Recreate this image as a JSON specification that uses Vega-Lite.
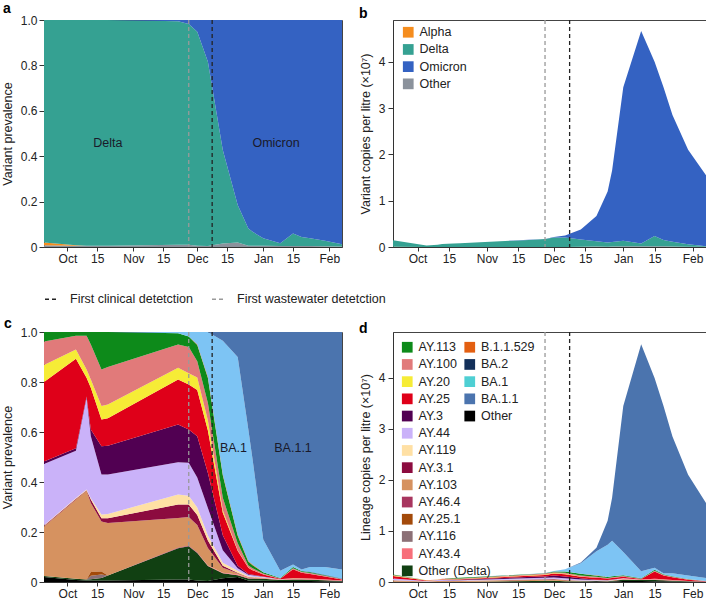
{
"$schema": "https://vega.github.io/schema/vega-lite/v6.json",
"background": "white",
"padding": {"left": 0, "top": 1, "right": 0, "bottom": 0},
"config": {
 "font": "Liberation Sans",
 "view": {"stroke": "#444444", "strokeWidth": 1},
 "axis": {"labelFont": "Liberation Sans", "labelFontSize": 12, "labelColor": "#222222", "titleFont": "Liberation Sans", "titleFontSize": 12.5, "titleFontWeight": "normal", "titleColor": "#222222", "domainColor": "#333333", "tickColor": "#333333", "grid": false},
 "legend": {"labelFont": "Liberation Sans"},
 "title": {"font": "Liberation Sans"}
},
"datasets": {
 "events": [
  {"event": "First clinical detetction", "date": "2021-12-08"},
  {"event": "First wastewater detetction", "date": "2021-11-27"}
 ],
 "labA": [
  {"date": "2021-10-20", "y": 0.46, "label": "Delta"},
  {"date": "2022-01-07", "y": 0.46, "label": "Omicron"}
 ],
 "labC": [
  {"date": "2021-12-18", "y": 0.537, "label": "BA.1"},
  {"date": "2022-01-15", "y": 0.537, "label": "BA.1.1"}
 ],
 "lin": [
  {"date":"2021-09-20","lineage":"Other","variant":"Other","copies":0.00116},
  {"date":"2021-09-20","lineage":"Other","variant":"Alpha","copies":0.00174},
  {"date":"2021-09-20","lineage":"Other (Delta)","variant":"Delta","copies":0.00058},
  {"date":"2021-09-20","lineage":"AY.103","variant":"Delta","copies":0.02871},
  {"date":"2021-09-20","lineage":"AY.3.1","variant":"Delta","copies":0.00044},
  {"date":"2021-09-20","lineage":"AY.119","variant":"Delta","copies":0.00029},
  {"date":"2021-09-20","lineage":"AY.44","variant":"Delta","copies":0.03553},
  {"date":"2021-09-20","lineage":"AY.3","variant":"Delta","copies":0.00145},
  {"date":"2021-09-20","lineage":"AY.25","variant":"Delta","copies":0.04611},
  {"date":"2021-09-20","lineage":"AY.20","variant":"Delta","copies":0.00986},
  {"date":"2021-09-20","lineage":"AY.100","variant":"Delta","copies":0.01363},
  {"date":"2021-09-20","lineage":"AY.113","variant":"Delta","copies":0.00551},

  {"date":"2021-10-05","lineage":"Other","variant":"Other","copies":0.00021},
  {"date":"2021-10-05","lineage":"Other","variant":"Alpha","copies":0.00007},
  {"date":"2021-10-05","lineage":"Other (Delta)","variant":"Delta","copies":0.00018},
  {"date":"2021-10-05","lineage":"AY.103","variant":"Delta","copies":0.0111},
  {"date":"2021-10-05","lineage":"AY.3.1","variant":"Delta","copies":0.00011},
  {"date":"2021-10-05","lineage":"AY.119","variant":"Delta","copies":0.00011},
  {"date":"2021-10-05","lineage":"AY.44","variant":"Delta","copies":0.00662},
  {"date":"2021-10-05","lineage":"AY.3","variant":"Delta","copies":0.00035},
  {"date":"2021-10-05","lineage":"AY.25","variant":"Delta","copies":0.01253},
  {"date":"2021-10-05","lineage":"AY.20","variant":"Delta","copies":0.0013},
  {"date":"2021-10-05","lineage":"AY.100","variant":"Delta","copies":0.00193},
  {"date":"2021-10-05","lineage":"AY.113","variant":"Delta","copies":0.00053},

  {"date":"2021-10-10","lineage":"Other","variant":"Other","copies":0.0003},
  {"date":"2021-10-10","lineage":"Other (Delta)","variant":"Delta","copies":0.0002},
  {"date":"2021-10-10","lineage":"AY.103","variant":"Delta","copies":0.01775},
  {"date":"2021-10-10","lineage":"AY.3.1","variant":"Delta","copies":0.0001},
  {"date":"2021-10-10","lineage":"AY.119","variant":"Delta","copies":0.00015},
  {"date":"2021-10-10","lineage":"AY.44","variant":"Delta","copies":0.01835},
  {"date":"2021-10-10","lineage":"AY.3","variant":"Delta","copies":0.00025},
  {"date":"2021-10-10","lineage":"AY.25","variant":"Delta","copies":0.00375},
  {"date":"2021-10-10","lineage":"AY.20","variant":"Delta","copies":0.00165},
  {"date":"2021-10-10","lineage":"AY.100","variant":"Delta","copies":0.00675},
  {"date":"2021-10-10","lineage":"AY.113","variant":"Delta","copies":0.00075},

  {"date":"2021-10-12","lineage":"Other","variant":"Other","copies":0.00039},
  {"date":"2021-10-12","lineage":"Other (Delta)","variant":"Delta","copies":0.00033},
  {"date":"2021-10-12","lineage":"AY.116","variant":"Delta","copies":0.00091},
  {"date":"2021-10-12","lineage":"AY.25.1","variant":"Delta","copies":0.00098},
  {"date":"2021-10-12","lineage":"AY.103","variant":"Delta","copies":0.01794},
  {"date":"2021-10-12","lineage":"AY.3.1","variant":"Delta","copies":0.00091},
  {"date":"2021-10-12","lineage":"AY.119","variant":"Delta","copies":0.00033},
  {"date":"2021-10-12","lineage":"AY.44","variant":"Delta","copies":0.01612},
  {"date":"2021-10-12","lineage":"AY.3","variant":"Delta","copies":0.00176},
  {"date":"2021-10-12","lineage":"AY.25","variant":"Delta","copies":0.01086},
  {"date":"2021-10-12","lineage":"AY.20","variant":"Delta","copies":0.00215},
  {"date":"2021-10-12","lineage":"AY.100","variant":"Delta","copies":0.0091},
  {"date":"2021-10-12","lineage":"AY.113","variant":"Delta","copies":0.00325},

  {"date":"2021-10-17","lineage":"Other","variant":"Other","copies":0.00047},
  {"date":"2021-10-17","lineage":"Other (Delta)","variant":"Delta","copies":0.00078},
  {"date":"2021-10-17","lineage":"AY.116","variant":"Delta","copies":0.00109},
  {"date":"2021-10-17","lineage":"AY.25.1","variant":"Delta","copies":0.00094},
  {"date":"2021-10-17","lineage":"AY.103","variant":"Delta","copies":0.0156},
  {"date":"2021-10-17","lineage":"AY.3.1","variant":"Delta","copies":0.00101},
  {"date":"2021-10-17","lineage":"AY.119","variant":"Delta","copies":0.00117},
  {"date":"2021-10-17","lineage":"AY.44","variant":"Delta","copies":0.01248},
  {"date":"2021-10-17","lineage":"AY.3","variant":"Delta","copies":0.00881},
  {"date":"2021-10-17","lineage":"AY.25","variant":"Delta","copies":0.00835},
  {"date":"2021-10-17","lineage":"AY.20","variant":"Delta","copies":0.00421},
  {"date":"2021-10-17","lineage":"AY.100","variant":"Delta","copies":0.01139},
  {"date":"2021-10-17","lineage":"AY.113","variant":"Delta","copies":0.0117},

  {"date":"2021-10-20","lineage":"Other","variant":"Other","copies":0.00049},
  {"date":"2021-10-20","lineage":"Other (Delta)","variant":"Delta","copies":0.00164},
  {"date":"2021-10-20","lineage":"AY.103","variant":"Delta","copies":0.01722},
  {"date":"2021-10-20","lineage":"AY.3.1","variant":"Delta","copies":0.00156},
  {"date":"2021-10-20","lineage":"AY.119","variant":"Delta","copies":0.00139},
  {"date":"2021-10-20","lineage":"AY.44","variant":"Delta","copies":0.01296},
  {"date":"2021-10-20","lineage":"AY.3","variant":"Delta","copies":0.00943},
  {"date":"2021-10-20","lineage":"AY.25","variant":"Delta","copies":0.00902},
  {"date":"2021-10-20","lineage":"AY.20","variant":"Delta","copies":0.00451},
  {"date":"2021-10-20","lineage":"AY.100","variant":"Delta","copies":0.0123},
  {"date":"2021-10-20","lineage":"AY.113","variant":"Delta","copies":0.01148},

  {"date":"2021-11-22","lineage":"Other","variant":"Other","copies":0.0016},
  {"date":"2021-11-22","lineage":"Other (Delta)","variant":"Delta","copies":0.02},
  {"date":"2021-11-22","lineage":"AY.46.4","variant":"Delta","copies":0.00032},
  {"date":"2021-11-22","lineage":"AY.103","variant":"Delta","copies":0.01904},
  {"date":"2021-11-22","lineage":"AY.3.1","variant":"Delta","copies":0.00864},
  {"date":"2021-11-22","lineage":"AY.119","variant":"Delta","copies":0.0064},
  {"date":"2021-11-22","lineage":"AY.44","variant":"Delta","copies":0.02064},
  {"date":"2021-11-22","lineage":"AY.3","variant":"Delta","copies":0.02416},
  {"date":"2021-11-22","lineage":"AY.25","variant":"Delta","copies":0.0288},
  {"date":"2021-11-22","lineage":"AY.20","variant":"Delta","copies":0.00752},
  {"date":"2021-11-22","lineage":"AY.100","variant":"Delta","copies":0.01488},
  {"date":"2021-11-22","lineage":"AY.113","variant":"Delta","copies":0.0072},
  {"date":"2021-11-22","lineage":"BA.1","variant":"Omicron","copies":0.0008},

  {"date":"2021-11-27","lineage":"Other","variant":"Other","copies":0.00175},
  {"date":"2021-11-27","lineage":"Other (Delta)","variant":"Delta","copies":0.02328},
  {"date":"2021-11-27","lineage":"AY.46.4","variant":"Delta","copies":0.00035},
  {"date":"2021-11-27","lineage":"AY.103","variant":"Delta","copies":0.02013},
  {"date":"2021-11-27","lineage":"AY.3.1","variant":"Delta","copies":0.00875},
  {"date":"2021-11-27","lineage":"AY.119","variant":"Delta","copies":0.00613},
  {"date":"2021-11-27","lineage":"AY.44","variant":"Delta","copies":0.0231},
  {"date":"2021-11-27","lineage":"AY.3","variant":"Delta","copies":0.02328},
  {"date":"2021-11-27","lineage":"AY.25","variant":"Delta","copies":0.0315},
  {"date":"2021-11-27","lineage":"AY.20","variant":"Delta","copies":0.00788},
  {"date":"2021-11-27","lineage":"AY.100","variant":"Delta","copies":0.01838},
  {"date":"2021-11-27","lineage":"AY.113","variant":"Delta","copies":0.00735},
  {"date":"2021-11-27","lineage":"BA.1","variant":"Omicron","copies":0.00315},

  {"date":"2021-12-01","lineage":"Other","variant":"Other","copies":0.00129},
  {"date":"2021-12-01","lineage":"Other (Delta)","variant":"Delta","copies":0.02365},
  {"date":"2021-12-01","lineage":"AY.46.4","variant":"Delta","copies":0.00043},
  {"date":"2021-12-01","lineage":"AY.103","variant":"Delta","copies":0.02365},
  {"date":"2021-12-01","lineage":"AY.3.1","variant":"Delta","copies":0.0086},
  {"date":"2021-12-01","lineage":"AY.119","variant":"Delta","copies":0.00645},
  {"date":"2021-12-01","lineage":"AY.44","variant":"Delta","copies":0.0258},
  {"date":"2021-12-01","lineage":"AY.3","variant":"Delta","copies":0.03548},
  {"date":"2021-12-01","lineage":"AY.25","variant":"Delta","copies":0.03978},
  {"date":"2021-12-01","lineage":"AY.20","variant":"Delta","copies":0.01075},
  {"date":"2021-12-01","lineage":"AY.100","variant":"Delta","copies":0.01398},
  {"date":"2021-12-01","lineage":"AY.113","variant":"Delta","copies":0.01398},
  {"date":"2021-12-01","lineage":"B.1.1.529","variant":"Omicron","copies":0.00043},
  {"date":"2021-12-01","lineage":"BA.1","variant":"Omicron","copies":0.01075},

  {"date":"2021-12-06","lineage":"Other","variant":"Other","copies":0.001},
  {"date":"2021-12-06","lineage":"Other (Delta)","variant":"Delta","copies":0.015},
  {"date":"2021-12-06","lineage":"AY.43.4","variant":"Delta","copies":0.0005},
  {"date":"2021-12-06","lineage":"AY.103","variant":"Delta","copies":0.0175},
  {"date":"2021-12-06","lineage":"AY.3.1","variant":"Delta","copies":0.0075},
  {"date":"2021-12-06","lineage":"AY.119","variant":"Delta","copies":0.005},
  {"date":"2021-12-06","lineage":"AY.44","variant":"Delta","copies":0.0275},
  {"date":"2021-12-06","lineage":"AY.3","variant":"Delta","copies":0.035},
  {"date":"2021-12-06","lineage":"AY.25","variant":"Delta","copies":0.0425},
  {"date":"2021-12-06","lineage":"AY.20","variant":"Delta","copies":0.01},
  {"date":"2021-12-06","lineage":"AY.100","variant":"Delta","copies":0.0175},
  {"date":"2021-12-06","lineage":"AY.113","variant":"Delta","copies":0.025},
  {"date":"2021-12-06","lineage":"B.1.1.529","variant":"Omicron","copies":0.00075},
  {"date":"2021-12-06","lineage":"BA.1","variant":"Omicron","copies":0.04525},

  {"date":"2021-12-13","lineage":"Other","variant":"Other","copies":0.0057},
  {"date":"2021-12-13","lineage":"Other (Delta)","variant":"Delta","copies":0.0076},
  {"date":"2021-12-13","lineage":"AY.43.4","variant":"Delta","copies":0.00076},
  {"date":"2021-12-13","lineage":"AY.103","variant":"Delta","copies":0.0076},
  {"date":"2021-12-13","lineage":"AY.3.1","variant":"Delta","copies":0.00304},
  {"date":"2021-12-13","lineage":"AY.119","variant":"Delta","copies":0.00456},
  {"date":"2021-12-13","lineage":"AY.44","variant":"Delta","copies":0.019},
  {"date":"2021-12-13","lineage":"AY.3","variant":"Delta","copies":0.0228},
  {"date":"2021-12-13","lineage":"AY.25","variant":"Delta","copies":0.0342},
  {"date":"2021-12-13","lineage":"AY.20","variant":"Delta","copies":0.0038},
  {"date":"2021-12-13","lineage":"AY.100","variant":"Delta","copies":0.019},
  {"date":"2021-12-13","lineage":"AY.113","variant":"Delta","copies":0.0342},
  {"date":"2021-12-13","lineage":"B.1.1.529","variant":"Omicron","copies":0.00114},
  {"date":"2021-12-13","lineage":"BA.1","variant":"Omicron","copies":0.2033},
  {"date":"2021-12-13","lineage":"BA.1.1","variant":"Omicron","copies":0.0133},

  {"date":"2021-12-20","lineage":"Other","variant":"Other","copies":0.0134},
  {"date":"2021-12-20","lineage":"Other (Delta)","variant":"Delta","copies":0.00469},
  {"date":"2021-12-20","lineage":"AY.43.4","variant":"Delta","copies":0.00201},
  {"date":"2021-12-20","lineage":"AY.103","variant":"Delta","copies":0.00335},
  {"date":"2021-12-20","lineage":"AY.3.1","variant":"Delta","copies":0.00134},
  {"date":"2021-12-20","lineage":"AY.119","variant":"Delta","copies":0.00536},
  {"date":"2021-12-20","lineage":"AY.44","variant":"Delta","copies":0.0067},
  {"date":"2021-12-20","lineage":"AY.3","variant":"Delta","copies":0.0067},
  {"date":"2021-12-20","lineage":"AY.25","variant":"Delta","copies":0.0402},
  {"date":"2021-12-20","lineage":"AY.20","variant":"Delta","copies":0.00134},
  {"date":"2021-12-20","lineage":"AY.100","variant":"Delta","copies":0.01876},
  {"date":"2021-12-20","lineage":"AY.113","variant":"Delta","copies":0.0201},
  {"date":"2021-12-20","lineage":"B.1.1.529","variant":"Omicron","copies":0.00201},
  {"date":"2021-12-20","lineage":"BA.1","variant":"Omicron","copies":0.47704},
  {"date":"2021-12-20","lineage":"BA.1.1","variant":"Omicron","copies":0.067},

  {"date":"2021-12-25","lineage":"Other","variant":"Other","copies":0.0072},
  {"date":"2021-12-25","lineage":"Other (Delta)","variant":"Delta","copies":0.0096},
  {"date":"2021-12-25","lineage":"AY.43.4","variant":"Delta","copies":0.0036},
  {"date":"2021-12-25","lineage":"AY.103","variant":"Delta","copies":0.0024},
  {"date":"2021-12-25","lineage":"AY.3.1","variant":"Delta","copies":0.0012},
  {"date":"2021-12-25","lineage":"AY.119","variant":"Delta","copies":0.0036},
  {"date":"2021-12-25","lineage":"AY.44","variant":"Delta","copies":0.0072},
  {"date":"2021-12-25","lineage":"AY.3","variant":"Delta","copies":0.0036},
  {"date":"2021-12-25","lineage":"AY.25","variant":"Delta","copies":0.03},
  {"date":"2021-12-25","lineage":"AY.20","variant":"Delta","copies":0.0012},
  {"date":"2021-12-25","lineage":"AY.100","variant":"Delta","copies":0.0096},
  {"date":"2021-12-25","lineage":"AY.113","variant":"Delta","copies":0.018},
  {"date":"2021-12-25","lineage":"B.1.1.529","variant":"Omicron","copies":0.0024},
  {"date":"2021-12-25","lineage":"BA.1","variant":"Omicron","copies":0.6324},
  {"date":"2021-12-25","lineage":"BA.1.1","variant":"Omicron","copies":0.468},

  {"date":"2021-12-27","lineage":"Other","variant":"Other","copies":0.0099},
  {"date":"2021-12-27","lineage":"Other (Delta)","variant":"Delta","copies":0.0132},
  {"date":"2021-12-27","lineage":"AY.43.4","variant":"Delta","copies":0.0033},
  {"date":"2021-12-27","lineage":"AY.103","variant":"Delta","copies":0.0033},
  {"date":"2021-12-27","lineage":"AY.3.1","variant":"Delta","copies":0.00165},
  {"date":"2021-12-27","lineage":"AY.119","variant":"Delta","copies":0.0033},
  {"date":"2021-12-27","lineage":"AY.44","variant":"Delta","copies":0.0099},
  {"date":"2021-12-27","lineage":"AY.3","variant":"Delta","copies":0.0033},
  {"date":"2021-12-27","lineage":"AY.25","variant":"Delta","copies":0.0297},
  {"date":"2021-12-27","lineage":"AY.20","variant":"Delta","copies":0.00165},
  {"date":"2021-12-27","lineage":"AY.100","variant":"Delta","copies":0.01155},
  {"date":"2021-12-27","lineage":"AY.113","variant":"Delta","copies":0.0198},
  {"date":"2021-12-27","lineage":"B.1.1.529","variant":"Omicron","copies":0.0033},
  {"date":"2021-12-27","lineage":"BA.1","variant":"Omicron","copies":0.69465},
  {"date":"2021-12-27","lineage":"BA.1.1","variant":"Omicron","copies":0.8415},

  {"date":"2022-01-01","lineage":"Other","variant":"Other","copies":0.01725},
  {"date":"2022-01-01","lineage":"Other (Delta)","variant":"Delta","copies":0.0276},
  {"date":"2022-01-01","lineage":"AY.43.4","variant":"Delta","copies":0.0069},
  {"date":"2022-01-01","lineage":"AY.103","variant":"Delta","copies":0.0069},
  {"date":"2022-01-01","lineage":"AY.119","variant":"Delta","copies":0.00345},
  {"date":"2022-01-01","lineage":"AY.44","variant":"Delta","copies":0.01035},
  {"date":"2022-01-01","lineage":"AY.3","variant":"Delta","copies":0.00345},
  {"date":"2022-01-01","lineage":"AY.25","variant":"Delta","copies":0.0276},
  {"date":"2022-01-01","lineage":"AY.100","variant":"Delta","copies":0.0138},
  {"date":"2022-01-01","lineage":"AY.113","variant":"Delta","copies":0.01725},
  {"date":"2022-01-01","lineage":"BA.1","variant":"Omicron","copies":0.45195},
  {"date":"2022-01-01","lineage":"BA.1.1","variant":"Omicron","copies":2.8635},

  {"date":"2022-01-09","lineage":"Other","variant":"Other","copies":0.01864},
  {"date":"2022-01-09","lineage":"Other (Delta)","variant":"Delta","copies":0.01864},
  {"date":"2022-01-09","lineage":"AY.43.4","variant":"Delta","copies":0.00466},
  {"date":"2022-01-09","lineage":"AY.103","variant":"Delta","copies":0.00466},
  {"date":"2022-01-09","lineage":"AY.44","variant":"Delta","copies":0.00466},
  {"date":"2022-01-09","lineage":"AY.25","variant":"Delta","copies":0.00932},
  {"date":"2022-01-09","lineage":"AY.100","variant":"Delta","copies":0.00466},
  {"date":"2022-01-09","lineage":"AY.113","variant":"Delta","copies":0.00932},
  {"date":"2022-01-09","lineage":"BA.1","variant":"Omicron","copies":0.13514},
  {"date":"2022-01-09","lineage":"BA.1.1","variant":"Omicron","copies":4.4503},

  {"date":"2022-01-15","lineage":"Other","variant":"Other","copies":0.016},
  {"date":"2022-01-15","lineage":"Other (Delta)","variant":"Delta","copies":0.024},
  {"date":"2022-01-15","lineage":"AY.43.4","variant":"Delta","copies":0.012},
  {"date":"2022-01-15","lineage":"AY.103","variant":"Delta","copies":0.012},
  {"date":"2022-01-15","lineage":"AY.25","variant":"Delta","copies":0.14},
  {"date":"2022-01-15","lineage":"AY.100","variant":"Delta","copies":0.016},
  {"date":"2022-01-15","lineage":"AY.113","variant":"Delta","copies":0.02},
  {"date":"2022-01-15","lineage":"BA.1","variant":"Omicron","copies":0.04},
  {"date":"2022-01-15","lineage":"BA.1.1","variant":"Omicron","copies":3.72},

  {"date":"2022-01-19","lineage":"Other","variant":"Other","copies":0.0138},
  {"date":"2022-01-19","lineage":"Other (Delta)","variant":"Delta","copies":0.0207},
  {"date":"2022-01-19","lineage":"AY.43.4","variant":"Delta","copies":0.01035},
  {"date":"2022-01-19","lineage":"AY.103","variant":"Delta","copies":0.0069},
  {"date":"2022-01-19","lineage":"AY.25","variant":"Delta","copies":0.0759},
  {"date":"2022-01-19","lineage":"AY.100","variant":"Delta","copies":0.0138},
  {"date":"2022-01-19","lineage":"AY.113","variant":"Delta","copies":0.01035},
  {"date":"2022-01-19","lineage":"BA.1","variant":"Omicron","copies":0.0207},
  {"date":"2022-01-19","lineage":"BA.1.1","variant":"Omicron","copies":3.2775},

  {"date":"2022-01-23","lineage":"Other","variant":"Other","copies":0.0114},
  {"date":"2022-01-23","lineage":"Other (Delta)","variant":"Delta","copies":0.01425},
  {"date":"2022-01-23","lineage":"AY.43.4","variant":"Delta","copies":0.00855},
  {"date":"2022-01-23","lineage":"AY.103","variant":"Delta","copies":0.0057},
  {"date":"2022-01-23","lineage":"AY.25","variant":"Delta","copies":0.0513},
  {"date":"2022-01-23","lineage":"AY.100","variant":"Delta","copies":0.0114},
  {"date":"2022-01-23","lineage":"AY.113","variant":"Delta","copies":0.00855},
  {"date":"2022-01-23","lineage":"BA.2","variant":"Omicron","copies":0.00285},
  {"date":"2022-01-23","lineage":"BA.1","variant":"Omicron","copies":0.057},
  {"date":"2022-01-23","lineage":"BA.1.1","variant":"Omicron","copies":2.679},

  {"date":"2022-01-30","lineage":"Other","variant":"Other","copies":0.0063},
  {"date":"2022-01-30","lineage":"Other (Delta)","variant":"Delta","copies":0.0084},
  {"date":"2022-01-30","lineage":"AY.43.4","variant":"Delta","copies":0.0063},
  {"date":"2022-01-30","lineage":"AY.25","variant":"Delta","copies":0.0252},
  {"date":"2022-01-30","lineage":"AY.100","variant":"Delta","copies":0.0063},
  {"date":"2022-01-30","lineage":"AY.113","variant":"Delta","copies":0.0042},
  {"date":"2022-01-30","lineage":"BA.2","variant":"Omicron","copies":0.0021},
  {"date":"2022-01-30","lineage":"BA.1","variant":"Omicron","copies":0.0672},
  {"date":"2022-01-30","lineage":"BA.1.1","variant":"Omicron","copies":1.974},

  {"date":"2022-02-07","lineage":"Other","variant":"Other","copies":0.0031},
  {"date":"2022-02-07","lineage":"Other (Delta)","variant":"Delta","copies":0.0031},
  {"date":"2022-02-07","lineage":"AY.43.4","variant":"Delta","copies":0.0031},
  {"date":"2022-02-07","lineage":"AY.25","variant":"Delta","copies":0.0062},
  {"date":"2022-02-07","lineage":"AY.100","variant":"Delta","copies":0.0031},
  {"date":"2022-02-07","lineage":"BA.2","variant":"Omicron","copies":0.00155},
  {"date":"2022-02-07","lineage":"BA.1","variant":"Omicron","copies":0.05735},
  {"date":"2022-02-07","lineage":"BA.1.1","variant":"Omicron","copies":1.4725}
 ]
},
"columns": 2,
"spacing": {"row": 85, "column": 51},
"bounds": "flush",
"resolve": {"scale": {"x": "independent", "y": "independent", "color": "independent", "fill": "independent", "stroke": "independent", "strokeDash": "independent"}},
"concat": [
 {
  "width": 298, "height": 227,
  "title": {"text": "a", "anchor": "start", "frame": "group", "dx": -41, "dy": 20, "offset": 7, "fontSize": 14, "fontWeight": "bold", "baseline": "alphabetic", "color": "#000000"},
  "encoding": {
   "x": {"field": "date", "type": "temporal", "scale": {"type": "utc", "domain": [1632096000000, 1644192000000]},
         "axis": {"title": null, "values": [1633046400000, 1634256000000, 1635724800000, 1636934400000, 1638316800000, 1639526400000, 1640995200000, 1642204800000, 1643673600000],
                  "labelExpr": "utcdate(datum.value) == 1 ? utcFormat(datum.value, '%b') : utcFormat(datum.value, '%d')", "tickSize": 4, "labelPadding": 2, "labelFlush": false, "labelOverlap": false}}
  },
  "layer": [
   {
    "data": {"name": "lin"},
    "transform": [
     {"aggregate": [{"op": "sum", "field": "copies", "as": "copies"}], "groupby": ["date", "variant"]},
     {"impute": "copies", "key": "date", "groupby": ["variant"], "value": 0},
     {"calculate": "indexof(['Other','Alpha','Delta','Omicron'], datum.variant)", "as": "o"}
    ],
    "mark": {"type": "area"},
    "encoding": {
     "y": {"field": "copies", "type": "quantitative", "stack": "normalize",
           "axis": {"title": "Variant prevalence", "values": [0, 0.2, 0.4, 0.6, 0.8, 1], "labelExpr": "datum.value == 0 ? '0' : format(datum.value, '.1f')", "tickSize": 5, "labelPadding": 2, "titlePadding": 6}},
     "color": {"field": "variant", "type": "nominal", "scale": {"domain": ["Alpha", "Delta", "Omicron", "Other"], "range": ["#f58d1e", "#35a192", "#3462c2", "#8b929c"]}, "legend": null},
     "order": {"field": "o", "type": "quantitative", "sort": "ascending"}
    }
   },
   {
    "data": {"name": "labA"},
    "mark": {"type": "text", "fontSize": 12.5, "color": "#1a1a2a"},
    "encoding": {
     "y": {"field": "y", "type": "quantitative"},
     "text": {"field": "label"}
    }
   },
   {
    "data": {"name": "events"},
    "mark": {"type": "rule", "strokeWidth": 1.3},
    "encoding": {
     "stroke": {"field": "event", "type": "nominal", "scale": {"domain": ["First clinical detetction", "First wastewater detetction"], "range": ["#222222", "#9a9a9a"]},
                "legend": {"title": null, "orient": "none", "legendX": 0, "legendY": 271, "direction": "horizontal", "symbolType": "stroke", "symbolSize": 196, "symbolStrokeWidth": 1.3, "labelFontSize": 12.5, "labelColor": "#222222", "labelOffset": 10, "columnPadding": 16, "padding": 0, "labelLimit": 300}},
     "strokeDash": {"field": "event", "type": "nominal", "scale": {"domain": ["First clinical detetction", "First wastewater detetction"], "range": [[4, 3], [4, 3]]},
                "legend": {"title": null, "orient": "none", "legendX": 0, "legendY": 271, "direction": "horizontal", "symbolType": "stroke", "symbolSize": 196, "symbolStrokeWidth": 1.3, "labelFontSize": 12.5, "labelColor": "#222222", "labelOffset": 10, "columnPadding": 16, "padding": 0, "labelLimit": 300}}
    }
   }
  ]
 },
 {
  "width": 313, "height": 227,
  "title": {"text": "b", "anchor": "start", "frame": "group", "dx": -34, "dy": 20, "offset": 7, "fontSize": 14, "fontWeight": "bold", "baseline": "alphabetic", "color": "#000000"},
  "encoding": {
   "x": {"field": "date", "type": "temporal", "scale": {"type": "utc", "domain": [1632096000000, 1644192000000]},
         "axis": {"title": null, "values": [1633046400000, 1634256000000, 1635724800000, 1636934400000, 1638316800000, 1639526400000, 1640995200000, 1642204800000, 1643673600000],
                  "labelExpr": "utcdate(datum.value) == 1 ? utcFormat(datum.value, '%b') : utcFormat(datum.value, '%d')", "tickSize": 4, "labelPadding": 2, "labelFlush": false, "labelOverlap": false}}
  },
  "layer": [
   {
    "data": {"name": "lin"},
    "transform": [
     {"aggregate": [{"op": "sum", "field": "copies", "as": "copies"}], "groupby": ["date", "variant"]},
     {"impute": "copies", "key": "date", "groupby": ["variant"], "value": 0},
     {"calculate": "indexof(['Other','Alpha','Delta','Omicron'], datum.variant)", "as": "o"}
    ],
    "mark": {"type": "area"},
    "encoding": {
     "y": {"field": "copies", "type": "quantitative", "stack": "zero", "scale": {"domain": [0, 4.9], "nice": false},
           "axis": {"title": "Variant copies per litre (×10⁷)", "values": [0, 1, 2, 3, 4], "format": "d", "labelOverlap": false, "tickSize": 5, "labelPadding": 3, "titlePadding": 6}},
     "color": {"field": "variant", "type": "nominal", "scale": {"domain": ["Alpha", "Delta", "Omicron", "Other"], "range": ["#f58d1e", "#35a192", "#3462c2", "#8b929c"]},
               "legend": {"title": null, "orient": "none", "legendX": 9, "legendY": 6, "symbolType": "square", "symbolSize": 115, "symbolStrokeWidth": 0, "labelFontSize": 12.5, "labelColor": "#222222", "rowPadding": 4.2, "labelOffset": 5, "padding": 0}},
     "order": {"field": "o", "type": "quantitative", "sort": "ascending"}
    }
   },
   {
    "data": {"name": "events"},
    "mark": {"type": "rule", "strokeWidth": 1.3},
    "encoding": {
     "stroke": {"field": "event", "type": "nominal", "scale": {"domain": ["First clinical detetction", "First wastewater detetction"], "range": ["#222222", "#9a9a9a"]}, "legend": null},
     "strokeDash": {"field": "event", "type": "nominal", "scale": {"domain": ["First clinical detetction", "First wastewater detetction"], "range": [[4, 3], [4, 3]]}, "legend": null}
    }
   }
  ]
 },
 {
  "width": 298, "height": 250,
  "title": {"text": "c", "anchor": "start", "frame": "group", "dx": -40, "dy": 20, "offset": 4, "fontSize": 14, "fontWeight": "bold", "baseline": "alphabetic", "color": "#000000"},
  "encoding": {
   "x": {"field": "date", "type": "temporal", "scale": {"type": "utc", "domain": [1632096000000, 1644192000000]},
         "axis": {"title": null, "values": [1633046400000, 1634256000000, 1635724800000, 1636934400000, 1638316800000, 1639526400000, 1640995200000, 1642204800000, 1643673600000],
                  "labelExpr": "utcdate(datum.value) == 1 ? utcFormat(datum.value, '%b') : utcFormat(datum.value, '%d')", "tickSize": 4, "labelPadding": 2, "labelFlush": false, "labelOverlap": false}}
  },
  "layer": [
   {
    "data": {"name": "lin"},
    "transform": [
     {"aggregate": [{"op": "sum", "field": "copies", "as": "copies"}], "groupby": ["date", "lineage"]},
     {"impute": "copies", "key": "date", "groupby": ["lineage"], "value": 0},
     {"calculate": "indexof(['Other','Other (Delta)','AY.43.4','AY.116','AY.25.1','AY.46.4','AY.103','AY.3.1','AY.119','AY.44','AY.3','AY.25','AY.20','AY.100','AY.113','B.1.1.529','BA.2','BA.1','BA.1.1'], datum.lineage)", "as": "o"}
    ],
    "mark": {"type": "area"},
    "encoding": {
     "y": {"field": "copies", "type": "quantitative", "stack": "normalize",
           "axis": {"title": "Variant prevalence", "values": [0, 0.2, 0.4, 0.6, 0.8, 1], "labelExpr": "datum.value == 0 ? '0' : format(datum.value, '.1f')", "tickSize": 5, "labelPadding": 2, "titlePadding": 6}},
     "color": {"field": "lineage", "type": "nominal",
               "scale": {"domain": ["AY.113","AY.100","AY.20","AY.25","AY.3","AY.44","AY.119","AY.3.1","AY.103","AY.46.4","AY.25.1","AY.116","AY.43.4","Other (Delta)","B.1.1.529","BA.2","BA.1","BA.1.1","Other"],
                         "range": ["#0d8a1a","#e17a7a","#f6ec36","#df0019","#510052","#cab2f9","#ffe0a4","#8c0b3f","#d69260","#a8365f","#a34a0a","#8c7076","#f76f7a","#114012","#e35f11","#13305a","#7dc4f4","#4b74ae","#000000"]},
               "legend": null},
     "order": {"field": "o", "type": "quantitative", "sort": "ascending"}
    }
   },
   {
    "data": {"name": "labC"},
    "mark": {"type": "text", "fontSize": 12.5, "color": "#1a1a2a"},
    "encoding": {
     "y": {"field": "y", "type": "quantitative"},
     "text": {"field": "label"}
    }
   },
   {
    "data": {"name": "events"},
    "mark": {"type": "rule", "strokeWidth": 1.3},
    "encoding": {
     "stroke": {"field": "event", "type": "nominal", "scale": {"domain": ["First clinical detetction", "First wastewater detetction"], "range": ["#222222", "#9a9a9a"]}, "legend": null},
     "strokeDash": {"field": "event", "type": "nominal", "scale": {"domain": ["First clinical detetction", "First wastewater detetction"], "range": [[4, 3], [4, 3]]}, "legend": null}
    }
   }
  ]
 },
 {
  "width": 313, "height": 250,
  "title": {"text": "d", "anchor": "start", "frame": "group", "dx": -34, "dy": 20, "offset": 4, "fontSize": 14, "fontWeight": "bold", "baseline": "alphabetic", "color": "#000000"},
  "encoding": {
   "x": {"field": "date", "type": "temporal", "scale": {"type": "utc", "domain": [1632096000000, 1644192000000]},
         "axis": {"title": null, "values": [1633046400000, 1634256000000, 1635724800000, 1636934400000, 1638316800000, 1639526400000, 1640995200000, 1642204800000, 1643673600000],
                  "labelExpr": "utcdate(datum.value) == 1 ? utcFormat(datum.value, '%b') : utcFormat(datum.value, '%d')", "tickSize": 4, "labelPadding": 2, "labelFlush": false, "labelOverlap": false}}
  },
  "layer": [
   {
    "data": {"name": "lin"},
    "transform": [
     {"aggregate": [{"op": "sum", "field": "copies", "as": "copies"}], "groupby": ["date", "lineage"]},
     {"impute": "copies", "key": "date", "groupby": ["lineage"], "value": 0},
     {"calculate": "indexof(['Other','Other (Delta)','AY.43.4','AY.116','AY.25.1','AY.46.4','AY.103','AY.3.1','AY.119','AY.44','AY.3','AY.25','AY.20','AY.100','AY.113','B.1.1.529','BA.2','BA.1','BA.1.1'], datum.lineage)", "as": "o"}
    ],
    "mark": {"type": "area"},
    "encoding": {
     "y": {"field": "copies", "type": "quantitative", "stack": "zero", "scale": {"domain": [0, 4.9], "nice": false},
           "axis": {"title": "Lineage copies per litre (×10⁷)", "values": [0, 1, 2, 3, 4], "format": "d", "labelOverlap": false, "tickSize": 5, "labelPadding": 3, "titlePadding": 6}},
     "color": {"field": "lineage", "type": "nominal",
               "scale": {"domain": ["AY.113","AY.100","AY.20","AY.25","AY.3","AY.44","AY.119","AY.3.1","AY.103","AY.46.4","AY.25.1","AY.116","AY.43.4","Other (Delta)","B.1.1.529","BA.2","BA.1","BA.1.1","Other"],
                         "range": ["#0d8a1a","#e17a7a","#f6ec36","#df0019","#510052","#cab2f9","#ffe0a4","#8c0b3f","#d69260","#a8365f","#a34a0a","#8c7076","#f76f7a","#114012","#e35f11","#13305a","#7dc4f4","#4b74ae","#000000"]},
               "legend": {"title": null, "orient": "none", "legendX": 8, "legendY": 9, "values": ["AY.113","AY.100","AY.20","AY.25","AY.3","AY.44","AY.119","AY.3.1","AY.103","AY.46.4","AY.25.1","AY.116","AY.43.4","Other (Delta)"], "symbolType": "square", "symbolSize": 115, "symbolStrokeWidth": 0, "labelFontSize": 12.5, "labelColor": "#222222", "rowPadding": 4.2, "labelOffset": 5, "padding": 0}},
     "order": {"field": "o", "type": "quantitative", "sort": "ascending"}
    }
   },
   {
    "data": {"name": "lin"},
    "transform": [{"filter": {"field": "lineage", "oneOf": ["B.1.1.529", "BA.2", "BA.1", "BA.1.1"]}}],
    "mark": {"type": "square", "opacity": 0},
    "encoding": {
     "y": {"field": "copies", "type": "quantitative", "stack": null,
           "axis": {"title": "Lineage copies per litre (×10⁷)", "values": [0, 1, 2, 3, 4], "format": "d", "labelOverlap": false, "tickSize": 5, "labelPadding": 3, "titlePadding": 6}},
     "fill": {"field": "lineage", "type": "nominal",
              "scale": {"domain": ["B.1.1.529", "BA.2", "BA.1", "BA.1.1", "Other"], "range": ["#e35f11", "#13305a", "#4ecfd3", "#4b74ae", "#000000"]},
              "legend": {"title": null, "orient": "none", "legendX": 70.5, "legendY": 9, "symbolType": "square", "symbolSize": 115, "symbolStrokeWidth": 0, "symbolOpacity": 1, "labelFontSize": 12.5, "labelColor": "#222222", "rowPadding": 4.2, "labelOffset": 5, "padding": 0}}
    }
   },
   {
    "data": {"name": "events"},
    "mark": {"type": "rule", "strokeWidth": 1.3},
    "encoding": {
     "stroke": {"field": "event", "type": "nominal", "scale": {"domain": ["First clinical detetction", "First wastewater detetction"], "range": ["#222222", "#9a9a9a"]}, "legend": null},
     "strokeDash": {"field": "event", "type": "nominal", "scale": {"domain": ["First clinical detetction", "First wastewater detetction"], "range": [[4, 3], [4, 3]]}, "legend": null}
    }
   }
  ]
 }
]
}
